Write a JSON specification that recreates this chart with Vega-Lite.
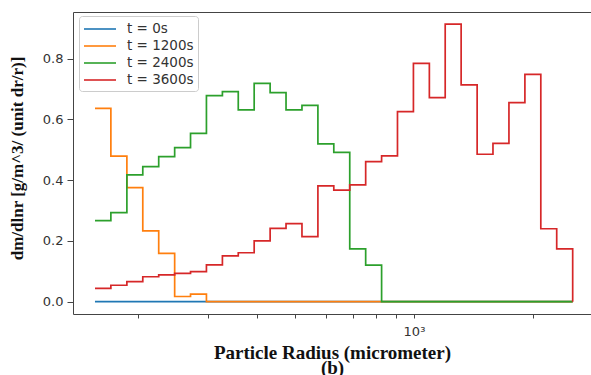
{
  "$schema": "https://vega.github.io/schema/vega-lite/v6.json",
  "width": 518,
  "height": 302,
  "autosize": "none",
  "padding": {"left": 73, "top": 12, "right": 0, "bottom": 61},
  "background": "white",
  "config": {
    "view": {"stroke": "#444", "strokeWidth": 1},
    "axis": {"domain": false, "grid": false, "tickColor": "#444", "labelFont": "DejaVu Sans", "labelColor": "#333", "labelFontSize": 13}
  },
  "data": {"values": [
    {"s":"t = 0s","r":155.3,"v":0},{"s":"t = 0s","r":170.4,"v":0},{"s":"t = 0s","r":187.1,"v":0},{"s":"t = 0s","r":205.3,"v":0},{"s":"t = 0s","r":225.3,"v":0},{"s":"t = 0s","r":247.3,"v":0},{"s":"t = 0s","r":271.3,"v":0},{"s":"t = 0s","r":297.7,"v":0},{"s":"t = 0s","r":326.8,"v":0},{"s":"t = 0s","r":358.5,"v":0},{"s":"t = 0s","r":393.4,"v":0},{"s":"t = 0s","r":431.8,"v":0},{"s":"t = 0s","r":473.8,"v":0},{"s":"t = 0s","r":520.0,"v":0},{"s":"t = 0s","r":570.7,"v":0},{"s":"t = 0s","r":626.2,"v":0},{"s":"t = 0s","r":687.3,"v":0},{"s":"t = 0s","r":754.3,"v":0},{"s":"t = 0s","r":827.8,"v":0},{"s":"t = 0s","r":908.2,"v":0},{"s":"t = 0s","r":996.8,"v":0},{"s":"t = 0s","r":1094,"v":0},{"s":"t = 0s","r":1200,"v":0},{"s":"t = 0s","r":1317,"v":0},{"s":"t = 0s","r":1446,"v":0},{"s":"t = 0s","r":1586,"v":0},{"s":"t = 0s","r":1741,"v":0},{"s":"t = 0s","r":1911,"v":0},{"s":"t = 0s","r":2097,"v":0},{"s":"t = 0s","r":2301,"v":0},{"s":"t = 0s","r":2526,"v":0},
    {"s":"t = 1200s","r":155.3,"v":0.636},{"s":"t = 1200s","r":170.4,"v":0.479},{"s":"t = 1200s","r":187.1,"v":0.375},{"s":"t = 1200s","r":205.3,"v":0.233},{"s":"t = 1200s","r":225.3,"v":0.159},{"s":"t = 1200s","r":247.3,"v":0.017},{"s":"t = 1200s","r":271.3,"v":0.025},{"s":"t = 1200s","r":297.7,"v":0},{"s":"t = 1200s","r":326.8,"v":0},{"s":"t = 1200s","r":358.5,"v":0},{"s":"t = 1200s","r":393.4,"v":0},{"s":"t = 1200s","r":431.8,"v":0},{"s":"t = 1200s","r":473.8,"v":0},{"s":"t = 1200s","r":520.0,"v":0},{"s":"t = 1200s","r":570.7,"v":0},{"s":"t = 1200s","r":626.2,"v":0},{"s":"t = 1200s","r":687.3,"v":0},{"s":"t = 1200s","r":754.3,"v":0},{"s":"t = 1200s","r":827.8,"v":0},{"s":"t = 1200s","r":908.2,"v":0},{"s":"t = 1200s","r":996.8,"v":0},{"s":"t = 1200s","r":1094,"v":0},{"s":"t = 1200s","r":1200,"v":0},{"s":"t = 1200s","r":1317,"v":0},{"s":"t = 1200s","r":1446,"v":0},{"s":"t = 1200s","r":1586,"v":0},{"s":"t = 1200s","r":1741,"v":0},{"s":"t = 1200s","r":1911,"v":0},{"s":"t = 1200s","r":2097,"v":0},{"s":"t = 1200s","r":2301,"v":0},{"s":"t = 1200s","r":2526,"v":0},
    {"s":"t = 2400s","r":155.3,"v":0.267},{"s":"t = 2400s","r":170.4,"v":0.293},{"s":"t = 2400s","r":187.1,"v":0.417},{"s":"t = 2400s","r":205.3,"v":0.444},{"s":"t = 2400s","r":225.3,"v":0.477},{"s":"t = 2400s","r":247.3,"v":0.507},{"s":"t = 2400s","r":271.3,"v":0.554},{"s":"t = 2400s","r":297.7,"v":0.678},{"s":"t = 2400s","r":326.8,"v":0.691},{"s":"t = 2400s","r":358.5,"v":0.631},{"s":"t = 2400s","r":393.4,"v":0.718},{"s":"t = 2400s","r":431.8,"v":0.688},{"s":"t = 2400s","r":473.8,"v":0.631},{"s":"t = 2400s","r":520.0,"v":0.646},{"s":"t = 2400s","r":570.7,"v":0.519},{"s":"t = 2400s","r":626.2,"v":0.491},{"s":"t = 2400s","r":687.3,"v":0.174},{"s":"t = 2400s","r":754.3,"v":0.12},{"s":"t = 2400s","r":827.8,"v":0},{"s":"t = 2400s","r":908.2,"v":0},{"s":"t = 2400s","r":996.8,"v":0},{"s":"t = 2400s","r":1094,"v":0},{"s":"t = 2400s","r":1200,"v":0},{"s":"t = 2400s","r":1317,"v":0},{"s":"t = 2400s","r":1446,"v":0},{"s":"t = 2400s","r":1586,"v":0},{"s":"t = 2400s","r":1741,"v":0},{"s":"t = 2400s","r":1911,"v":0},{"s":"t = 2400s","r":2097,"v":0},{"s":"t = 2400s","r":2301,"v":0},{"s":"t = 2400s","r":2526,"v":0},
    {"s":"t = 3600s","r":155.3,"v":0.044},{"s":"t = 3600s","r":170.4,"v":0.054},{"s":"t = 3600s","r":187.1,"v":0.066},{"s":"t = 3600s","r":205.3,"v":0.082},{"s":"t = 3600s","r":225.3,"v":0.088},{"s":"t = 3600s","r":247.3,"v":0.093},{"s":"t = 3600s","r":271.3,"v":0.099},{"s":"t = 3600s","r":297.7,"v":0.121},{"s":"t = 3600s","r":326.8,"v":0.151},{"s":"t = 3600s","r":358.5,"v":0.161},{"s":"t = 3600s","r":393.4,"v":0.2},{"s":"t = 3600s","r":431.8,"v":0.241},{"s":"t = 3600s","r":473.8,"v":0.257},{"s":"t = 3600s","r":520.0,"v":0.214},{"s":"t = 3600s","r":570.7,"v":0.381},{"s":"t = 3600s","r":626.2,"v":0.367},{"s":"t = 3600s","r":687.3,"v":0.384},{"s":"t = 3600s","r":754.3,"v":0.461},{"s":"t = 3600s","r":827.8,"v":0.48},{"s":"t = 3600s","r":908.2,"v":0.625},{"s":"t = 3600s","r":996.8,"v":0.784},{"s":"t = 3600s","r":1094,"v":0.671},{"s":"t = 3600s","r":1200,"v":0.913},{"s":"t = 3600s","r":1317,"v":0.713},{"s":"t = 3600s","r":1446,"v":0.485},{"s":"t = 3600s","r":1586,"v":0.521},{"s":"t = 3600s","r":1741,"v":0.655},{"s":"t = 3600s","r":1911,"v":0.748},{"s":"t = 3600s","r":2097,"v":0.24},{"s":"t = 3600s","r":2301,"v":0.174},{"s":"t = 3600s","r":2526,"v":0}
  ]},
  "mark": {"type": "line", "interpolate": "step-after", "strokeWidth": 1.7, "clip": true},
  "encoding": {
    "x": {
      "field": "r", "type": "quantitative",
      "scale": {"type": "log", "domain": [136.6, 2811], "nice": false},
      "axis": {
        "values": [200, 300, 400, 500, 600, 700, 800, 900, 1000, 2000],
        "labelExpr": "datum.value == 1000 ? '10³' : ''",
        "tickSize": 4, "labelPadding": 7, "labelFontSize": 13,
        "title": ["Particle Radius (micrometer)", "(b)"],
        "titleFont": "Liberation Serif", "titleFontWeight": "bold", "titleFontSize": 19,
        "titleColor": "#111", "titleBaseline": "alphabetic", "titleY": 44, "titleLineHeight": 15
      }
    },
    "y": {
      "field": "v", "type": "quantitative",
      "scale": {"domain": [-0.0405, 0.953], "nice": false, "zero": false},
      "axis": {
        "values": [0, 0.2, 0.4, 0.6, 0.8], "format": ".1f",
        "tickSize": 6, "labelPadding": 4, "labelFontSize": 13,
        "title": "dm/dlnr [g/m^3/ (unit dr/r)]",
        "titleFont": "Liberation Serif", "titleFontWeight": "bold", "titleFontSize": 17,
        "titleColor": "#111", "titleAngle": 270, "titleBaseline": "middle", "titleX": -56, "titleY": 146
      }
    },
    "color": {
      "field": "s", "type": "nominal",
      "scale": {"domain": ["t = 0s", "t = 1200s", "t = 2400s", "t = 3600s"], "range": ["#1f77b4", "#ff7f0e", "#2ca02c", "#d62728"]},
      "legend": {
        "title": null, "orient": "none", "legendX": 6, "legendY": 4,
        "symbolType": "M-1,0H3", "symbolSize": 256, "symbolStrokeWidth": 1.6,
        "labelFont": "DejaVu Sans", "labelFontSize": 13.5, "labelColor": "#333", "labelOffset": 26,
        "rowPadding": 1, "padding": 4,
        "fillColor": "white", "strokeColor": "#ccc", "cornerRadius": 3
      }
    }
  }
}
